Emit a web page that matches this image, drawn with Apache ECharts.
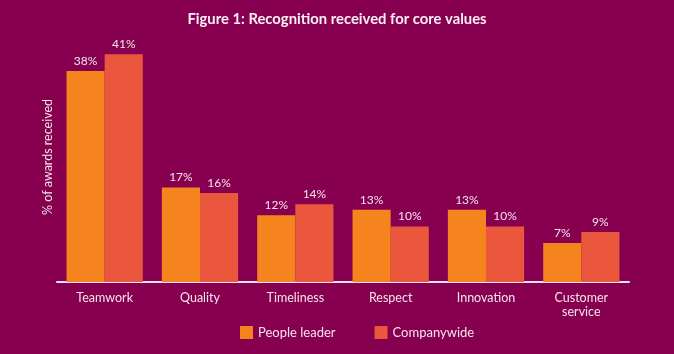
<!DOCTYPE html>
<html><head><meta charset="utf-8">
<script src="https://cdn.jsdelivr.net/npm/echarts@6/dist/echarts.min.js"></script>
<style>html,body{margin:0;padding:0;background:#870050;}#c{width:674px;height:354px;}</style>
</head><body><div id="c"></div>
<script>
const categories = ['Teamwork','Quality','Timeliness','Respect','Innovation','Customer\nservice'];
const peopleLeader = [38,17,12,13,13,7];
const companywide = [41,16,14,10,10,9];
const seriesNames = ['People leader','Companywide'];
const txt = '#f5e3ec';
const chart = echarts.init(document.getElementById('c'));
chart.setOption({
  backgroundColor:'#870050',
  textStyle:{fontFamily:'Lato'},
  title:{text:'Figure 1: Recognition received for core values',left:'center',top:7,
    textStyle:{color:'#fbeff5',fontSize:14.8,fontWeight:'bold',fontFamily:'Lato'}},
  legend:{top:326,left:240,padding:0,itemWidth:13,itemHeight:13,itemGap:39,icon:'rect',
    textStyle:{color:txt,fontSize:13,fontFamily:'Lato'}, data:seriesNames},
  grid:{left:57,right:45,top:32,bottom:72},
  xAxis:{type:'category',data:categories,
    axisLine:{lineStyle:{color:'#f3e4ec',width:2}},axisTick:{show:false},
    axisLabel:{color:txt,fontSize:12.5,margin:9,lineHeight:14,fontFamily:'Lato'}},
  yAxis:{type:'value',min:0,max:45,show:true,axisLine:{show:false},axisTick:{show:false},axisLabel:{show:false},splitLine:{show:false},
    name:'% of awards received',nameLocation:'middle',nameRotate:90,nameGap:3,
    nameTextStyle:{color:txt,fontSize:12.5,fontFamily:'Lato'}},
  series:[
    {name:seriesNames[0],type:'bar',data:peopleLeader,barGap:'0%',barCategoryGap:'20%',
     itemStyle:{color:'#f5841f'},
     label:{show:true,position:'top',formatter:'{c}%',color:txt,fontSize:12,distance:4,fontFamily:'Lato'}},
    {name:seriesNames[1],type:'bar',data:companywide,
     itemStyle:{color:'#eb573d'},
     label:{show:true,position:'top',formatter:'{c}%',color:txt,fontSize:12,distance:4,fontFamily:'Lato'}}
  ]
});
</script></body></html>
